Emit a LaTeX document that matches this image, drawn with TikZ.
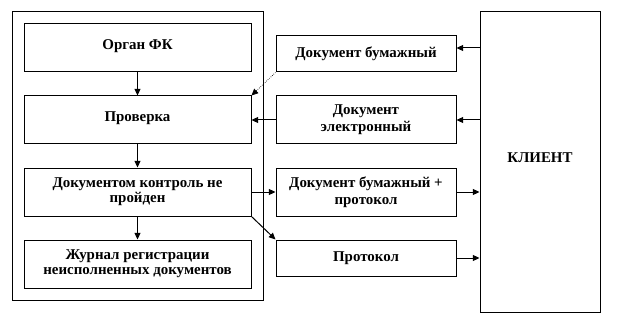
\documentclass[tikz,border=0pt]{standalone}
\usepackage{fontspec}
\setmainfont{Liberation Serif}
\usetikzlibrary{arrows.meta}
\begin{document}
\begin{tikzpicture}[x=0.75pt,y=-0.75pt,
  frame/.style={draw=black, line width=0.75pt},
  box/.style={draw=black, line width=0.75pt, font=\bfseries\fontsize{11.2}{13}\selectfont, align=center, inner sep=0pt},
  tight/.style={font=\bfseries\fontsize{11.2}{11.5}\selectfont},
  arr/.style={line width=0.75pt, -{Triangle[length=5pt,width=4.5pt]}},
  darr/.style={line width=0.5pt, densely dotted, -{Triangle[length=5pt,width=4.5pt]}}
]
\useasboundingbox (0,0) rectangle (624,324);
\draw[frame] (12,12) rectangle (263,300);
\node[box, minimum width=227*0.75pt, minimum height=48*0.75pt] (org) at (137.5,48) {\raisebox{4.5pt}{Орган ФК}};
\node[box, minimum width=227*0.75pt, minimum height=48*0.75pt] (prov) at (137.5,120) {\raisebox{4.5pt}{Проверка}};
\node[box, tight, minimum width=227*0.75pt, minimum height=48*0.75pt] (kontr) at (137.5,192) {Документом контроль не\\пройден};
\node[box, tight, minimum width=227*0.75pt, minimum height=48*0.75pt] (jur) at (137.5,264) {Журнал регистрации\\неисполненных документов};
\node[box, minimum width=180*0.75pt, minimum height=36*0.75pt] (m1) at (366,54) {Документ бумажный};
\node[box, minimum width=180*0.75pt, minimum height=48*0.75pt] (m2) at (366,120) {Документ\\электронный};
\node[box, minimum width=180*0.75pt, minimum height=48*0.75pt] (m3) at (366,192) {Документ бумажный +\\протокол};
\node[box, minimum width=180*0.75pt, minimum height=36*0.75pt] (m4) at (366,258) {Протокол};
\node[box, minimum width=120*0.75pt, minimum height=300*0.75pt] (kl) at (540,162) {\raisebox{6pt}{КЛИЕНТ}};
\draw[arr] (org.south) -- (prov.north);
\draw[arr] (prov.south) -- (kontr.north);
\draw[arr] (kontr.south) -- (jur.north);
\draw[darr] (m1.south west) -- (prov.north east);
\draw[arr] (m2.west) -- (prov.east);
\draw[arr] (kontr.east) -- (m3.west);
\draw[arr] (kontr.south east) -- (m4.north west);
\draw[arr] (kl.west |- 0,48) coordinate (k1) -- (m1.east |- k1);
\draw[arr] (kl.west |- m2.east) -- (m2.east);
\draw[arr] (m3.east) -- (kl.west |- m3.east);
\draw[arr] (m4.east) -- (kl.west |- m4.east);
\end{tikzpicture}
\end{document}
